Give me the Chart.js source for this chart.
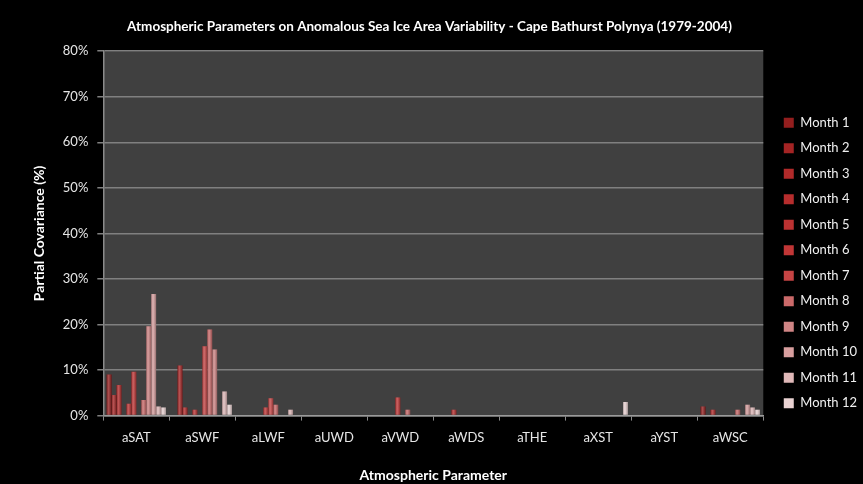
<!DOCTYPE html>
<html>
<head>
<meta charset="utf-8">
<title>Cape Bathurst Polynya</title>
<script src="https://cdn.jsdelivr.net/npm/chart.js@4.4.0/dist/chart.umd.min.js"></script>
<style>
html, body { margin: 0; padding: 0; background: #000; }
#wrap { width: 863px; height: 484px; }
</style>
</head>
<body>
<div id="wrap"><canvas id="chart1" width="863" height="484"></canvas></div>
<script>
// categories on the x axis
let parameters = ['aSAT', 'aSWF', 'aLWF', 'aUWD', 'aVWD', 'aWDS', 'aTHE', 'aXST', 'aYST', 'aWSC'];

// partial covariance (%) per month, one value per parameter
let month1  = [9.0,  0,    0,   0, 0,   0,   0, 0,   0, 2.0];
let month2  = [4.5,  11.0, 0,   0, 0,   0,   0, 0,   0, 0];
let month3  = [6.7,  1.8,  0,   0, 0,   0,   0, 0,   0, 1.3];
let month4  = [0,    0,    0,   0, 0,   1.3, 0, 0,   0, 0];
let month5  = [2.6,  1.3,  0,   0, 0,   0,   0, 0,   0, 0];
let month6  = [9.6,  0,    1.8, 0, 4.0, 0,   0, 0,   0, 0];
let month7  = [0,    15.2, 3.8, 0, 0,   0,   0, 0,   0, 0];
let month8  = [3.4,  18.9, 2.4, 0, 1.3, 0,   0, 0,   0, 1.3];
let month9  = [19.6, 14.5, 0,   0, 0,   0,   0, 0,   0, 0];
let month10 = [26.7, 0,    0,   0, 0,   0,   0, 0,   0, 2.4];
let month11 = [2.0,  5.3,  1.3, 0, 0,   0,   0, 0,   0, 1.8];
let month12 = [1.8,  2.4,  0,   0, 0,   0,   0, 3.0, 0, 1.3];

let yTicks = [0, 10, 20, 30, 40, 50, 60, 70, 80];

let monthLabels = ['Month 1', 'Month 2', 'Month 3', 'Month 4', 'Month 5', 'Month 6',
                   'Month 7', 'Month 8', 'Month 9', 'Month 10', 'Month 11', 'Month 12'];
let monthColors = ['#931e1e', '#a42424', '#b12a2a', '#b62d2d', '#bc3232', '#c13636',
                   '#c64444', '#cb6a6a', '#d08585', '#d89f9f', '#e0b9b9', '#ead3d3'];
let monthValues = [month1, month2, month3, month4, month5, month6,
                   month7, month8, month9, month10, month11, month12];

let datasets = monthLabels.map((label, i) => ({
    label: label,
    data: monthValues[i],
    backgroundColor: monthColors[i],
    borderWidth: 0,
    categoryPercentage: 0.9,
    barPercentage: 1.0
}));

// dark grey plot area on a black chart
const plotBg = {
    id: 'plotBg',
    beforeDraw(chart) {
        const ctx = chart.ctx, a = chart.chartArea;
        ctx.save();
        ctx.fillStyle = '#000';
        ctx.fillRect(0, 0, chart.width, chart.height);
        ctx.fillStyle = '#404040';
        ctx.fillRect(a.left, a.top, a.right - a.left, a.bottom - a.top);
        ctx.restore();
    }
};

// little shine on each bar, like the excel 3d look
const barShine = {
    id: 'barShine',
    afterDatasetsDraw(chart) {
        const ctx = chart.ctx;
        ctx.save();
        chart.data.datasets.forEach((ds, i) => {
            chart.getDatasetMeta(i).data.forEach(bar => {
                const p = bar.getProps(['x', 'y', 'base', 'width'], true);
                if (Math.abs(p.base - p.y) < 0.5) return;
                const g = ctx.createLinearGradient(p.x - p.width / 2, 0, p.x + p.width / 2, 0);
                g.addColorStop(0, 'rgba(0,0,0,0.25)');
                g.addColorStop(0.35, 'rgba(255,255,255,0.22)');
                g.addColorStop(1, 'rgba(0,0,0,0.3)');
                ctx.fillStyle = g;
                ctx.fillRect(p.x - p.width / 2, p.y, p.width, p.base - p.y);
            });
        });
        ctx.restore();
    }
};

// excel puts the legend a bit lower and closer to the edge
const legendShift = {
    id: 'legendShift',
    afterLayout(chart) {
        chart.legend.top += 21;
        chart.legend.bottom += 21;
        chart.legend.left += 8;
        chart.legend.right += 8;
    }
};

Chart.defaults.font.family = 'Lato, "Open Sans", sans-serif';

let config = {
    type: 'bar',
    data: {
        labels: parameters,
        datasets: datasets
    },
    options: {
        responsive: false,
        animation: false,
        layout: { padding: { right: 4 } },
        plugins: {
            title: {
                display: true,
                text: 'Atmospheric Parameters on Anomalous Sea Ice Area Variability - Cape Bathurst Polynya (1979-2004)',
                color: '#ffffff',
                font: { size: 13.5, weight: 'bold' },
                padding: { top: 19, bottom: 16 }
            },
            legend: {
                position: 'right',
                labels: {
                    color: '#f0f0f0',
                    font: { size: 13 },
                    boxWidth: 10,
                    boxHeight: 10,
                    padding: 12.5
                }
            },
            tooltip: { enabled: false }
        },
        scales: {
            x: {
                grid: { offset: true, drawOnChartArea: false, tickLength: 5, color: '#8a8a8a', lineWidth: 1 },
                border: { color: '#9a9a9a', width: 1.5 },
                ticks: { color: '#e6e6e6', font: { size: 13 }, padding: 9 },
                title: {
                    display: true,
                    text: 'Atmospheric Parameter',
                    color: '#ffffff',
                    font: { size: 14, weight: 'bold' },
                    padding: { top: 13, bottom: 0 }
                }
            },
            y: {
                min: 0,
                max: 80,
                afterBuildTicks: axis => { axis.ticks = yTicks.map(v => ({ value: v })); },
                ticks: { color: '#e6e6e6', font: { size: 13 }, padding: 9, callback: v => v + '%' },
                grid: { color: '#808080', lineWidth: 1.5, tickLength: 6 },
                border: { color: '#8a8a8a', width: 1.5 },
                title: {
                    display: true,
                    text: 'Partial Covariance (%)',
                    color: '#ffffff',
                    font: { size: 14, weight: 'bold' },
                    padding: { top: 31, bottom: 6 }
                }
            }
        }
    },
    plugins: [plotBg, barShine, legendShift]
};

let ctx1 = document.getElementById('chart1').getContext('2d');
new Chart(ctx1, config);
</script>
</body>
</html>
